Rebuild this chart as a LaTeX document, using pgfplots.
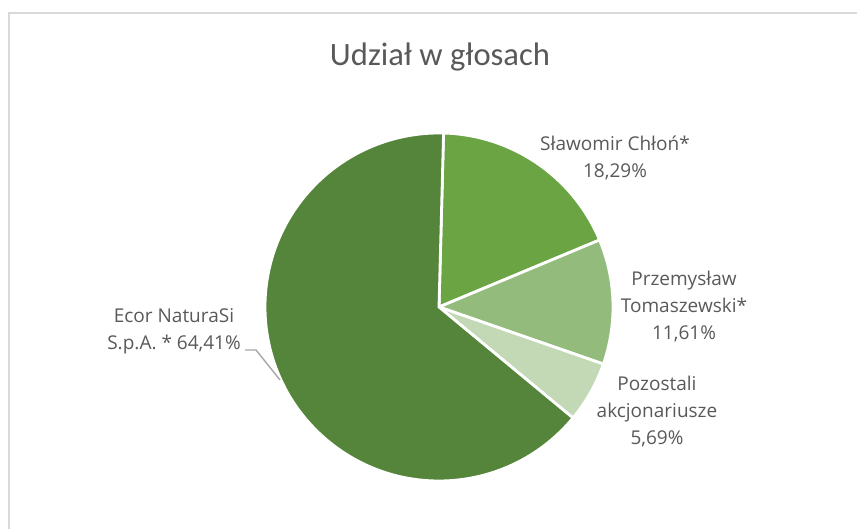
\documentclass[border=0pt]{standalone}
\usepackage{pgfplots}
\pgfplotsset{compat=1.18}
\usepackage{pgfplotstable}
\usepackage{fontspec}
\setmainfont{Open Sans}
\newfontfamily\labfont{Open Sans}
\newfontfamily\titfont{Carlito}

\definecolor{cEcor}{HTML}{55853A}
\definecolor{cSlaw}{HTML}{6AA443}
\definecolor{cPrze}{HTML}{93BC7C}
\definecolor{cPozo}{HTML}{C3D9B5}
\definecolor{txtgray}{HTML}{595959}
\definecolor{framegray}{HTML}{D9D9D9}

% share of votes, clockwise from the top
\pgfplotstableread[col sep=comma]{
name,value
Slawomir,18.29
Przemyslaw,11.61
Pozostali,5.69
Ecor,64.41
}\votes

\begin{document}
\begin{tikzpicture}
\useasboundingbox (0,0) rectangle (428.5pt,264.5pt);

% cumulative angles of the slices
\pgfplotstablegetelem{0}{value}\of\votes \let\vA\pgfplotsretval
\pgfplotstablegetelem{1}{value}\of\votes \let\vB\pgfplotsretval
\pgfplotstablegetelem{2}{value}\of\votes \let\vC\pgfplotsretval
\pgfplotstablegetelem{3}{value}\of\votes \let\vD\pgfplotsretval
\pgfmathsetmacro\aA{88.5}
\pgfmathsetmacro\aB{\aA-3.6*\vA}
\pgfmathsetmacro\aC{\aB-3.6*\vB}
\pgfmathsetmacro\aD{\aC-3.6*\vC}
\pgfmathsetmacro\aE{\aD-3.6*\vD}

\begin{axis}[
    scale only axis,
    width=428.5pt, height=264.5pt,
    xmin=0, xmax=857, ymin=0, ymax=529,
    hide axis, clip=false,
]
% chart frame (top and left edges visible)
\draw[framegray, line width=1pt] (axis cs:9,0) -- (axis cs:9,516) -- (axis cs:857,516);

% slices
\fill[cSlaw, draw=white, line width=1.4pt] (axis cs:439,222) -- ++(\aA:87pt)
    arc[start angle=\aA, end angle=\aB, radius=87pt] -- cycle;
\fill[cPrze, draw=white, line width=1.4pt] (axis cs:439,222) -- ++(\aB:87pt)
    arc[start angle=\aB, end angle=\aC, radius=87pt] -- cycle;
\fill[cPozo, draw=white, line width=1.4pt] (axis cs:439,222) -- ++(\aC:87pt)
    arc[start angle=\aC, end angle=\aD, radius=87pt] -- cycle;
\fill[cEcor, draw=white, line width=1.4pt] (axis cs:439,222) -- ++(\aD:87pt)
    arc[start angle=\aD, end angle=\aE, radius=87pt] -- cycle;

% title
\node[anchor=base, text=txtgray, font=\titfont\fontsize{16.3}{19}\selectfont]
    at (axis cs:440,463) {Udział w głosach};

% data labels
\node[align=center, text=txtgray, font=\labfont\fontsize{9.5}{13.5}\selectfont]
    at (axis cs:615,371) {Sławomir Chłoń*\\18,29\%};
\node[align=center, text=txtgray, font=\labfont\fontsize{9.5}{13.5}\selectfont]
    at (axis cs:684,222) {Przemysław\\Tomaszewski*\\11,61\%};
\node[align=center, text=txtgray, font=\labfont\fontsize{9.5}{13.5}\selectfont]
    at (axis cs:657,117) {Pozostali\\akcjonariusze\\5,69\%};
\node[align=center, text=txtgray, font=\labfont\fontsize{9.5}{13.5}\selectfont]
    at (axis cs:174,198) {Ecor NaturaSi\\S.p.A. * 64,41\%};

% leader line
\draw[gray!70, line width=0.7pt] (axis cs:245,179) -- (axis cs:256,179) -- (axis cs:280,149);
\end{axis}
\end{tikzpicture}
\end{document}
